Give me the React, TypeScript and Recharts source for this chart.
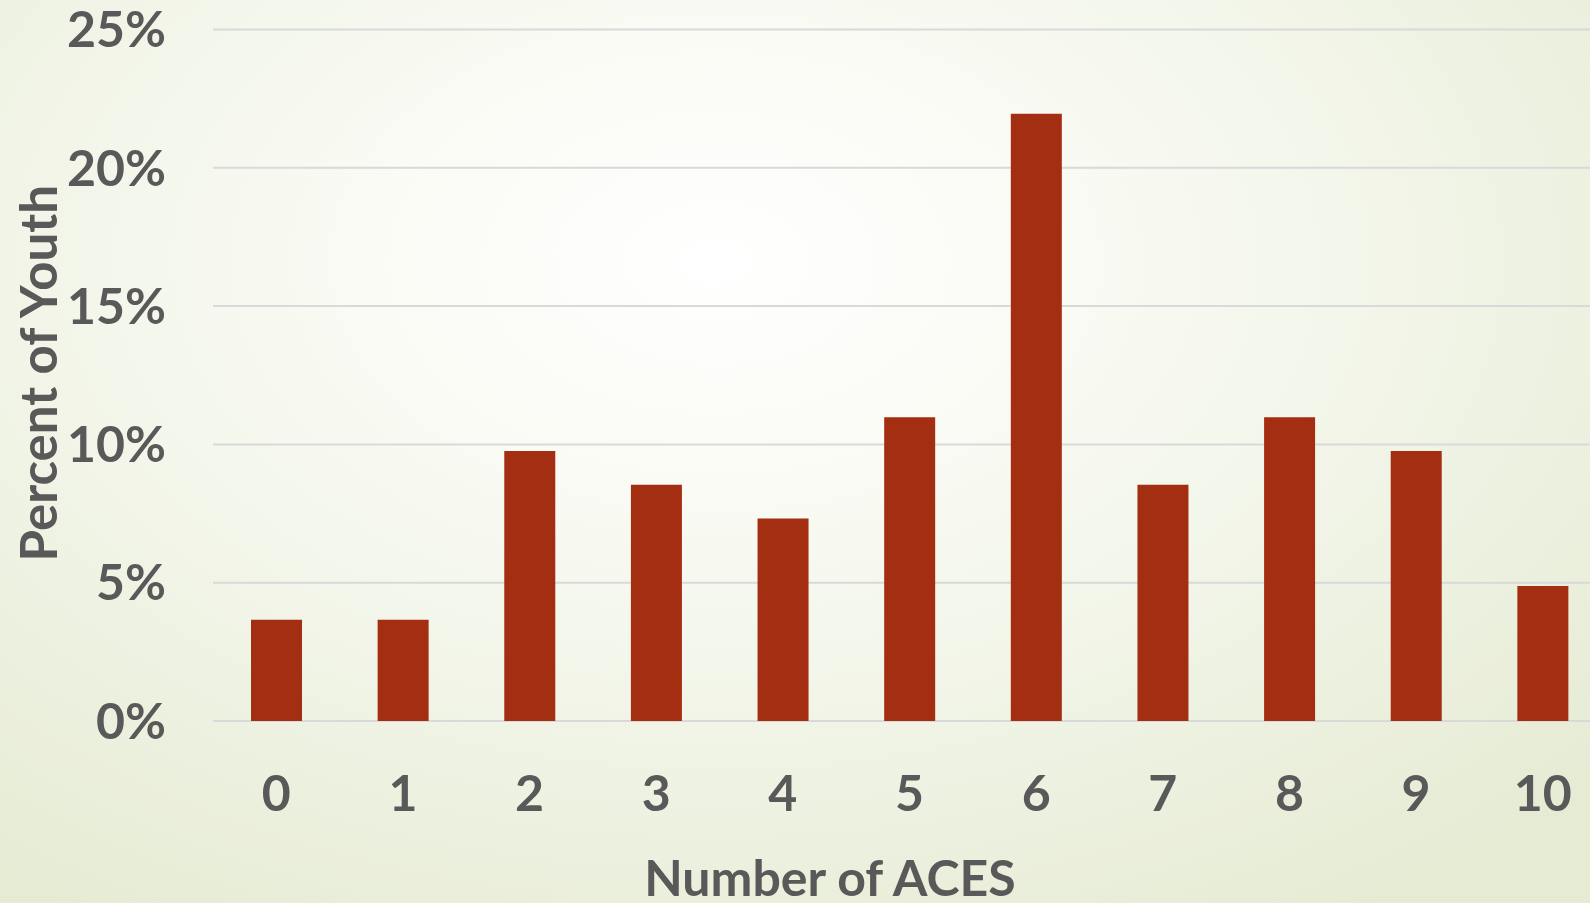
import { BarChart, Bar, XAxis, YAxis, CartesianGrid, Label } from 'recharts'

// share of youth (%) by number of adverse childhood experiences
const aceCounts = ['0', '1', '2', '3', '4', '5', '6', '7', '8', '9', '10']
const youthPercent = [3.66, 3.66, 9.76, 8.54, 7.32, 10.98, 21.95, 8.54, 10.98, 9.76, 4.88]
const percentTicks = [0, 5, 10, 15, 20, 25]

const data = aceCounts.map((aces, i) => ({ aces, percent: youthPercent[i] }))

const TEXT = '#595959'
const FONT = 'Lato, "Open Sans", sans-serif'

function YTitle({ viewBox }: any) {
  const cx = viewBox.x + 37
  const cy = viewBox.y + viewBox.height / 2 - 2
  return (
    <text
      x={cx}
      y={cy}
      transform={`rotate(-90 ${cx} ${cy})`}
      textAnchor="middle"
      dominantBaseline="central"
      fill={TEXT}
      fontSize={51}
      fontWeight={700}
      fontFamily={FONT}
    >
      Percent of Youth
    </text>
  )
}

function XTitle({ viewBox }: any) {
  return (
    <text
      x={830}
      y={viewBox.y + 175}
      textAnchor="middle"
      fill={TEXT}
      fontSize={50}
      fontWeight={700}
      fontFamily={FONT}
    >
      Number of ACES
    </text>
  )
}

export default function App() {
  return (
    <div
      style={{
        position: 'fixed',
        left: 0,
        top: 0,
        width: 1590,
        height: 903,
        overflow: 'hidden',
        background:
          'radial-gradient(ellipse 75% 85% at 45% 29%, #ffffff 0%, #f8faf2 35%, #eef2e2 70%, #e6ebd4 100%)'
      }}
    >
      <BarChart
        width={1606}
        height={903}
        data={data}
        margin={{ top: 29.5, right: 0, left: 0, bottom: 0 }}
      >
        <CartesianGrid vertical={false} stroke="#d9d9d9" strokeWidth={2} />
        <XAxis
          dataKey="aces"
          height={182}
          axisLine={false}
          tickLine={false}
          tickSize={0}
          tickMargin={54}
          interval={0}
          tick={{ fill: TEXT, fontSize: 50, fontWeight: 700, fontFamily: FONT }}
        >
          <Label content={<XTitle />} />
        </XAxis>
        <YAxis
          width={213}
          domain={[0, 25]}
          ticks={percentTicks}
          axisLine={false}
          tickLine={false}
          tickSize={0}
          tickMargin={47}
          tickFormatter={(v) => `${v}%`}
          tick={{ fill: TEXT, fontSize: 50, fontWeight: 700, fontFamily: FONT }}
        >
          <Label content={<YTitle />} />
        </YAxis>
        <Bar dataKey="percent" fill="#a42e11" barSize={51} isAnimationActive={false} />
      </BarChart>
    </div>
  )
}
